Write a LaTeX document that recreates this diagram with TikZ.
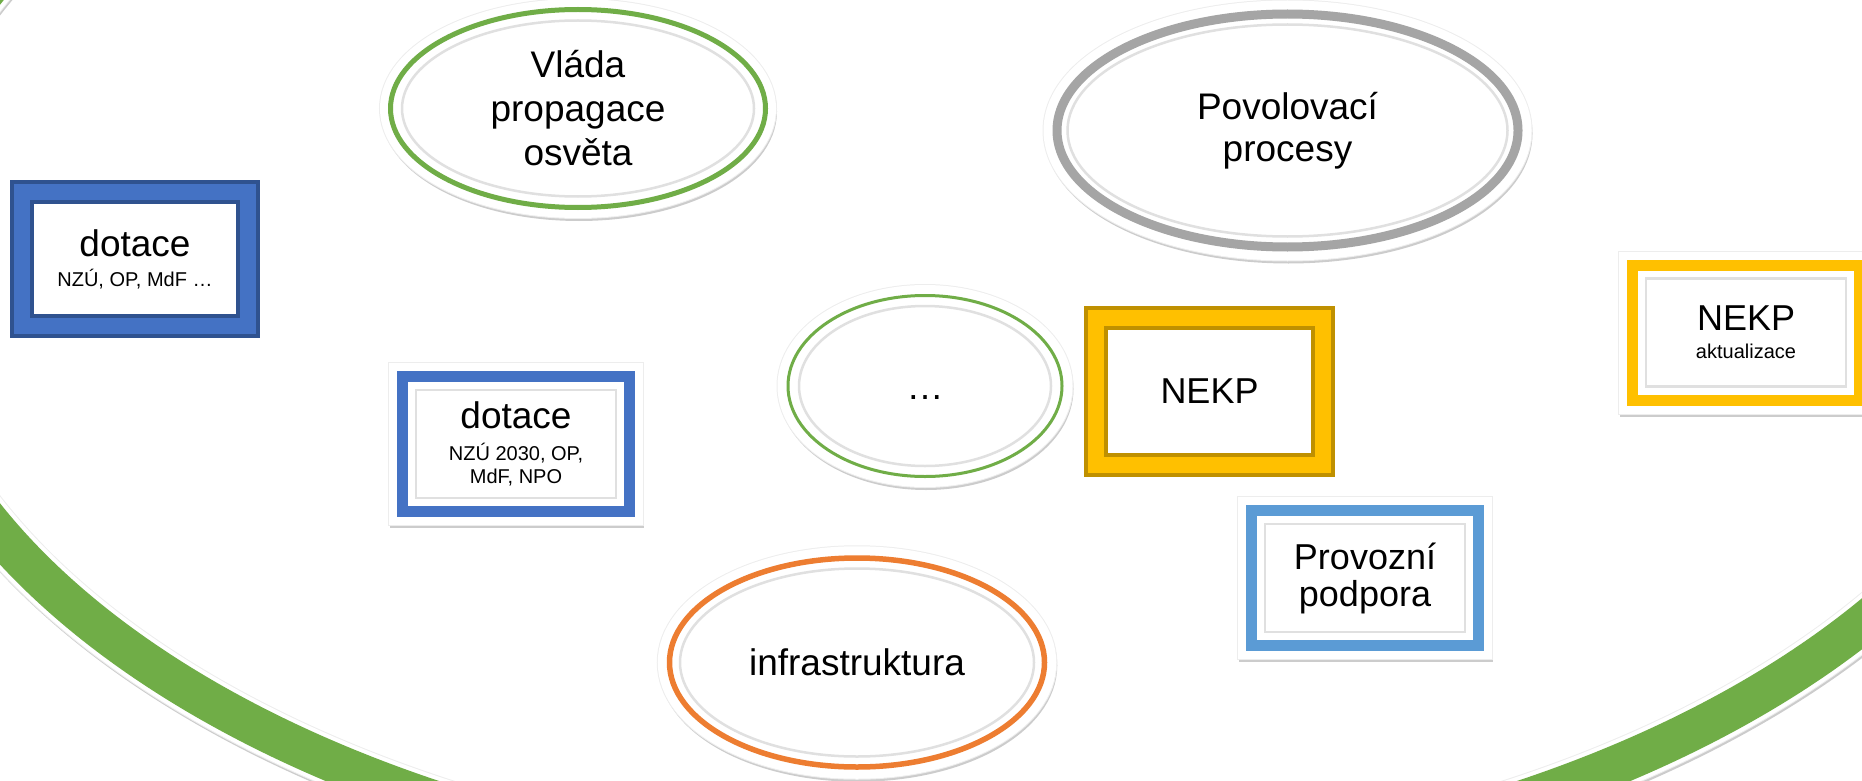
\documentclass[tikz,border=0pt]{standalone}
\usepackage{fontspec}
\setmainfont{Liberation Sans}
\usetikzlibrary{shapes.geometric}
\definecolor{ringgreen}{HTML}{70AD47}
\definecolor{ringorange}{HTML}{ED7D31}
\definecolor{ringgray}{HTML}{A5A5A5}
\definecolor{boxblue}{HTML}{4472C4}
\definecolor{boxblueline}{HTML}{2F528F}
\definecolor{boxsky}{HTML}{5B9BD5}
\definecolor{boxgold}{HTML}{FFC000}
\definecolor{boxgoldline}{HTML}{BF9000}
\newcommand{\fsz}[2]{\fontsize{#1pt}{#2pt}\selectfont}

\begin{document}
\begin{tikzpicture}[x=1pt,y=-1pt,
ring/.style={ellipse,inner sep=0pt,outer sep=0pt,align=center,fill=white,font=\fsz{37}{44}},
rim/.style={preaction={draw=black!20,line width=#1,transform canvas={shift={(1pt,-3pt)}}},
  preaction={draw=black!7,line width=#1+2pt},
  preaction={draw=white,line width=#1}},
framebox/.style={rectangle,inner sep=0pt,outer sep=0pt,align=center,fill=white,
  line width=4pt,double distance=16pt},
bandbox/.style={rectangle,inner sep=0pt,outer sep=0pt,align=center,fill=white,draw=white,
  line width=8pt,double distance=11pt,minimum width=227,minimum height=135,rim=27pt},
inset/.style={draw=black!12,line width=2.5pt}]
\useasboundingbox (0,0) rectangle (1862,781);
\clip (0,0) rectangle (1862,781);

% big green arc
\coordinate (hub) at (978,254);
\draw[black!20,line width=48pt,transform canvas={shift={(1pt,-3pt)}}] (hub) ellipse [x radius=1092,y radius=630];
\draw[black!7,line width=50pt] (hub) ellipse [x radius=1092,y radius=630];
\draw[white,line width=48pt] (hub) ellipse [x radius=1092,y radius=630];
\draw[ringgreen,line width=40pt] (hub) ellipse [x radius=1092,y radius=630];

% ellipses
\node[ring,rim=21pt,draw=ringgreen,line width=5pt,minimum width=375,minimum height=198] (vlada) at (578,108.5) {Vláda\\propagace\\osvěta};
\draw[inset] (vlada.center) ellipse [x radius=176,y radius=88];
\node[ring,rim=27pt,draw=ringgray,line width=9pt,minimum width=461,minimum height=233,font=\fsz{37}{42}] (povol) at (1287.5,130.5) {Povolovací\\procesy};
\draw[inset] (povol.center) ellipse [x radius=220,y radius=106];
\node[ring,rim=21pt,draw=ringgreen,line width=3pt,minimum width=274,minimum height=181,text height=27pt] (etc) at (925,386) {…};
\draw[inset] (etc.center) ellipse [x radius=126,y radius=80];
\node[ring,rim=23.5pt,draw=ringorange,line width=5.5pt,minimum width=375,minimum height=209] (infra) at (857,662.5) {infrastruktura};
\draw[inset] (infra.center) ellipse [x radius=177,y radius=94];

% boxes
\node[framebox,draw=boxblueline,double=boxblue,minimum width=226,minimum height=134,font=\fsz{37}{30}] (dotold) at (135,259) {dotace\\\fsz{20}{24}NZÚ, OP, MdF …};
\node[framebox,draw=boxgoldline,double=boxgold,minimum width=227,minimum height=147,font=\fsz{36}{44}] (nekp) at (1209.5,391.5) {NEKP};
\node[bandbox,double=boxblue,font=\fsz{37}{23}] (dotnew) at (516,444) {dotace\\[9pt]\fsz{20}{23}NZÚ 2030, OP,\\\fsz{20}{23}MdF, NPO};
\node[bandbox,double=boxsky,font=\fsz{36}{37}] (prov) at (1365,578) {Provozní\\podpora};
\node[bandbox,double=boxgold,font=\fsz{36}{28}] (nekpupd) at (1746,332.5) {NEKP\\\fsz{20}{24}aktualizace};
\foreach \b in {dotnew,prov,nekpupd}
  \draw[inset] ([shift={(13.5,13.5)}]\b.north west) rectangle ([shift={(-13.5,-13.5)}]\b.south east);
\end{tikzpicture}
\end{document}
